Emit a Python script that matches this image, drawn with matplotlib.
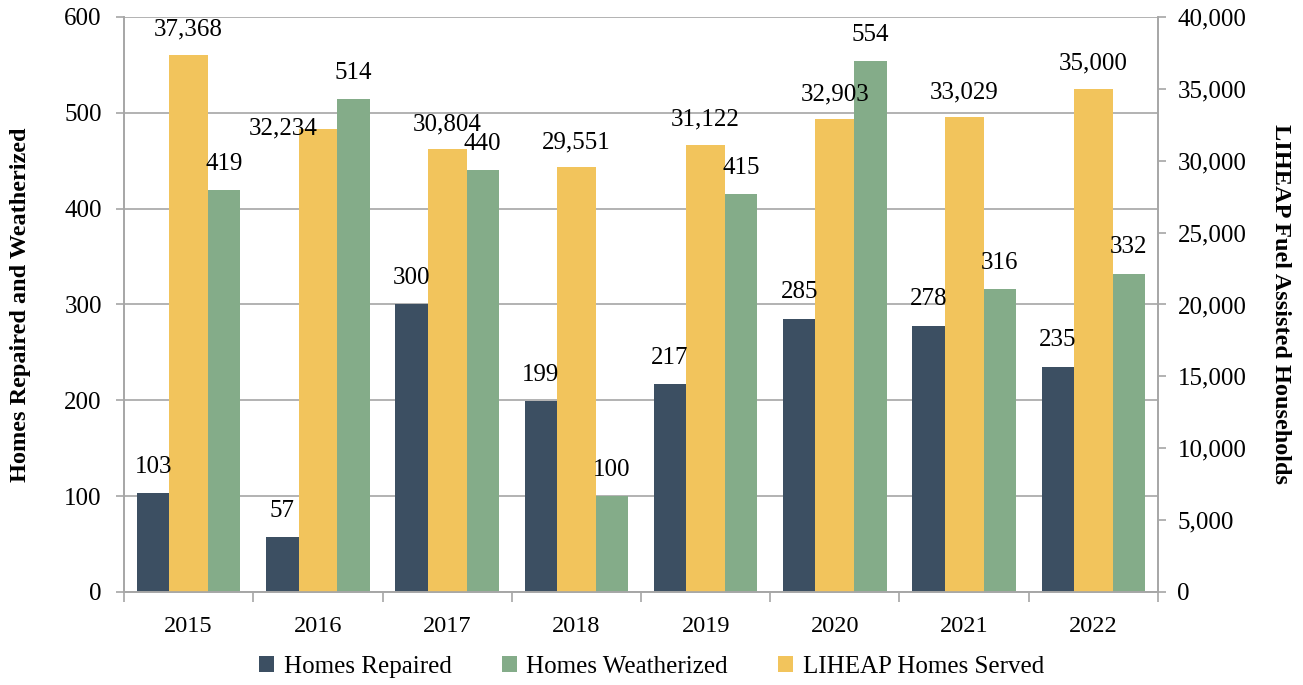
import numpy as np
import matplotlib.pyplot as plt
from matplotlib.ticker import FuncFormatter, MultipleLocator, FixedLocator

plt.rcParams['font.family'] = ['Liberation Serif', 'DejaVu Serif']

years = ['2015', '2016', '2017', '2018', '2019', '2020', '2021', '2022']
repaired = [103, 57, 300, 199, 217, 285, 278, 235]
weatherized = [419, 514, 440, 100, 415, 554, 316, 332]
liheap = [37368, 32234, 30804, 29551, 31122, 32903, 33029, 35000]

c_rep = '#3C4F62'
c_wea = '#84AC89'
c_lih = '#F2C45C'
grid_c = '#A6A6A6'
fs = 18

fig = plt.figure(figsize=(13.03, 6.85), dpi=100)
ax = fig.add_axes([0.0952, 0.1358, 0.7935, 0.8394])
ax2 = ax.twinx()

x = np.arange(len(years))
ax.bar(x - 0.275, repaired, width=0.25, color=c_rep, label='Homes Repaired', zorder=2)
ax.bar(x + 0.275, weatherized, width=0.25, color=c_wea, label='Homes Weatherized', zorder=2)
ax2.bar(x, liheap, width=0.30, color=c_lih, label='LIHEAP Homes Served', zorder=2)

ax.set_xlim(-0.5, len(years) - 0.5)
ax.set_ylim(0, 600)
ax2.set_ylim(0, 40000)
ax.yaxis.set_major_locator(MultipleLocator(100))
ax2.yaxis.set_major_locator(MultipleLocator(5000))
ax2.yaxis.set_major_formatter(FuncFormatter(lambda v, p: f'{int(v):,}'))

ax.set_xticks(x)
ax.set_xticklabels(years)
ax.xaxis.set_minor_locator(FixedLocator(np.arange(-0.5, len(years), 1)))
ax.tick_params(axis='x', which='major', length=0, pad=17, labelsize=17.5)
ax.tick_params(axis='x', which='minor', length=7, color=grid_c, width=1.2)
ax.tick_params(axis='y', length=6, color=grid_c, width=1.2, labelsize=fs, pad=10)
ax2.tick_params(axis='y', length=6, color=grid_c, width=1.2, labelsize=fs, pad=8)

ax.set_axisbelow(True)
ax.grid(axis='y', color=grid_c, linewidth=1.2)

for a in (ax, ax2):
    a.spines['top'].set_visible(False)
    for s in ('left', 'right', 'bottom'):
        a.spines[s].set_color(grid_c)
        a.spines[s].set_linewidth(1.2)

ax.set_ylabel('Homes Repaired and Weatherized', fontsize=17.5, fontweight='bold', labelpad=24)
ax2.set_ylabel('LIHEAP Fuel Assisted Households', fontsize=17.5, fontweight='bold',
               rotation=270, labelpad=32)

# value labels (drawn on ax2 so they sit above all bars)
for i in range(len(years)):
    ax2.annotate(str(repaired[i]), xy=(x[i] - 0.275, repaired[i]), xycoords=ax.transData,
                 xytext=(0, 19), textcoords='offset points', ha='center', va='center', fontsize=fs)
    ax2.annotate(str(weatherized[i]), xy=(x[i] + 0.275, weatherized[i]), xycoords=ax.transData,
                 xytext=(0, 19), textcoords='offset points', ha='center', va='center', fontsize=fs)
    off = (-25, 0) if i == 1 else (0, 18)
    ax2.annotate(f'{liheap[i]:,}', xy=(x[i], liheap[i]), xycoords=ax2.transData,
                 xytext=off, textcoords='offset points', ha='center', va='center', fontsize=fs)

h1, l1 = ax.get_legend_handles_labels()
h2, l2 = ax2.get_legend_handles_labels()
fig.legend(h1 + h2, l1 + l2, loc='center', bbox_to_anchor=(0.5, 0.027), ncol=3,
           frameon=False, fontsize=fs, handlelength=0.6, handleheight=0.6,
           handletextpad=0.4, columnspacing=2.0)

fig.savefig('out.png', dpi=100)
